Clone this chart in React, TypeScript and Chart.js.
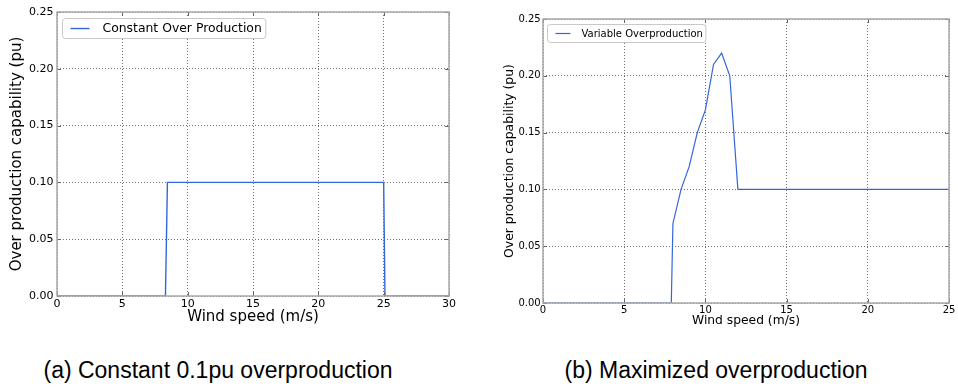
import React, { useEffect, useRef } from "react";
import { Chart, registerables } from "chart.js";

Chart.register(...registerables);

// ---- data ----
const windA = [0, 8.3, 8.45, 25.0, 25.1, 30];
const capA = [0, 0, 0.1, 0.1, 0, 0];
const windB = [0, 7.9, 8.0, 8.5, 9.0, 9.5, 10.0, 10.5, 11.0, 11.5, 12.0, 25];
const capB = [0, 0, 0.07, 0.1, 0.12, 0.15, 0.17, 0.21, 0.22, 0.2, 0.1, 0.1];
const xTicksA = [0, 5, 10, 15, 20, 25, 30];
const xTicksB = [0, 5, 10, 15, 20, 25];
const yTicks = [0, 0.05, 0.1, 0.15, 0.2, 0.25];
const labelA = "Constant Over Production";
const labelB = "Variable Overproduction";
const captionA = "(a) Constant 0.1pu overproduction";
const captionB = "(b) Maximized overproduction";
const xTitle = "Wind speed (m/s)";
const yTitle = "Over production capability (pu)";

const FONT = '"DejaVu Sans", sans-serif';
const LINE_COLOR = "#3366dd";

const frameLegendPlugin = {
  id: "frameLegend",
  afterDatasetsDraw(chart: any, _args: any, opts: any) {
    const { ctx, chartArea: a } = chart;
    const xs = chart.scales.x;
    const ys = chart.scales.y;
    const L = opts.tickLen;
    ctx.save();
    // inward ticks on all sides
    ctx.strokeStyle = opts.tickColor;
    ctx.lineWidth = 1;
    ctx.beginPath();
    xs.ticks.forEach((t: any) => {
      const px = Math.round(xs.getPixelForValue(t.value)) + 0.5;
      ctx.moveTo(px, a.bottom);
      ctx.lineTo(px, a.bottom - L);
      ctx.moveTo(px, a.top);
      ctx.lineTo(px, a.top + L);
    });
    ys.ticks.forEach((t: any) => {
      const py = Math.round(ys.getPixelForValue(t.value)) + 0.5;
      ctx.moveTo(a.left, py);
      ctx.lineTo(a.left + L, py);
      ctx.moveTo(a.right, py);
      ctx.lineTo(a.right - L, py);
    });
    ctx.stroke();
    // frame
    ctx.strokeStyle = opts.frameColor;
    ctx.lineWidth = opts.frameWidth;
    ctx.strokeRect(a.left, a.top, a.right - a.left, a.bottom - a.top);
    // legend inside plot
    const ds = chart.data.datasets[0];
    ctx.font = `${opts.legendSize}px ${FONT}`;
    const tw = ctx.measureText(ds.label).width;
    const bx = a.left + opts.legendDx + 0.5;
    const by = a.top + opts.legendDy + 0.5;
    const bw = opts.textStart + tw + opts.padRight;
    const bh = opts.legendH;
    const r = 3;
    ctx.beginPath();
    ctx.moveTo(bx + r, by);
    ctx.lineTo(bx + bw - r, by);
    ctx.arcTo(bx + bw, by, bx + bw, by + r, r);
    ctx.lineTo(bx + bw, by + bh - r);
    ctx.arcTo(bx + bw, by + bh, bx + bw - r, by + bh, r);
    ctx.lineTo(bx + r, by + bh);
    ctx.arcTo(bx, by + bh, bx, by + bh - r, r);
    ctx.lineTo(bx, by + r);
    ctx.arcTo(bx, by, bx + r, by, r);
    ctx.closePath();
    ctx.fillStyle = "#ffffff";
    ctx.fill();
    ctx.strokeStyle = "#c8c8c8";
    ctx.lineWidth = 1;
    ctx.stroke();
    const cy = by + bh / 2;
    ctx.beginPath();
    ctx.strokeStyle = ds.borderColor;
    ctx.lineWidth = ds.borderWidth;
    ctx.moveTo(bx + opts.sampleStart, cy);
    ctx.lineTo(bx + opts.sampleStart + opts.sampleLen, cy);
    ctx.stroke();
    ctx.fillStyle = "#000";
    ctx.textAlign = "left";
    ctx.textBaseline = "middle";
    ctx.fillText(ds.label, bx + opts.textStart, cy + 0.5);
    ctx.restore();
  },
};

type Cfg = {
  left: number;
  w: number;
  h: number;
  xs: number[];
  ys: number[];
  label: string;
  xMax: number;
  xTicks: number[];
  padTop: number;
  padRight: number;
  yAxisW: number;
  xAxisH: number;
  yTitleSize: number;
  yTitlePad: number;
  xTitleSize: number;
  xTitlePad: number;
  tickSize: number;
  yTickPad: number;
  xTickPad: number;
  lineWidth: number;
  legend: any;
};

function Plot({ cfg }: { cfg: Cfg }) {
  const ref = useRef<HTMLCanvasElement>(null);
  useEffect(() => {
    const gridColor = "rgba(0,0,0,0.55)";
    const chart = new Chart(ref.current as HTMLCanvasElement, {
      type: "scatter",
      data: {
        datasets: [
          {
            label: cfg.label,
            data: cfg.xs.map((x, i) => ({ x, y: cfg.ys[i] })),
            borderColor: LINE_COLOR,
            backgroundColor: LINE_COLOR,
            borderWidth: cfg.lineWidth,
            pointRadius: 0,
            showLine: true,
            tension: 0,
          } as any,
        ],
      },
      options: {
        animation: false,
        responsive: false,
        devicePixelRatio: 1,
        layout: { padding: { left: 0, top: cfg.padTop, right: cfg.padRight, bottom: 0 } },
        plugins: {
          legend: { display: false },
          tooltip: { enabled: false },
          frameLegend: {
            tickLen: 4,
            tickColor: "#666",
            frameColor: "#a8a8a8",
            frameWidth: 1.5,
            ...cfg.legend,
          },
        } as any,
        scales: {
          x: {
            type: "linear",
            min: 0,
            max: cfg.xMax,
            afterBuildTicks: (s: any) => {
              s.ticks = cfg.xTicks.map((v) => ({ value: v }));
            },
            afterFit: (s: any) => {
              s.height = cfg.xAxisH;
            },
            ticks: {
              autoSkip: false,
              maxRotation: 0,
              padding: cfg.xTickPad,
              color: "#000",
              font: { family: FONT, size: cfg.tickSize, lineHeight: 1 },
              callback: (v: any) => String(v),
            },
            grid: { color: gridColor, lineWidth: 1, drawTicks: false },
            border: { display: false, dash: [1, 2] },
            title: {
              display: true,
              text: xTitle,
              color: "#000",
              font: { family: FONT, size: cfg.xTitleSize, lineHeight: 1 },
              padding: { top: 0, bottom: cfg.xTitlePad },
            },
          },
          y: {
            type: "linear",
            min: 0,
            max: 0.25,
            afterBuildTicks: (s: any) => {
              s.ticks = yTicks.map((v) => ({ value: v }));
            },
            afterFit: (s: any) => {
              s.width = cfg.yAxisW;
            },
            ticks: {
              padding: cfg.yTickPad,
              color: "#000",
              font: { family: FONT, size: cfg.tickSize, lineHeight: 1 },
              callback: (v: any) => Number(v).toFixed(2),
            },
            grid: { color: gridColor, lineWidth: 1, drawTicks: false },
            border: { display: false, dash: [1, 2] },
            title: {
              display: true,
              text: yTitle,
              color: "#000",
              font: { family: FONT, size: cfg.yTitleSize, lineHeight: 1 },
              padding: { top: cfg.yTitlePad, bottom: 0 },
            },
          },
        },
      } as any,
      plugins: [frameLegendPlugin as any],
    });
    return () => chart.destroy();
  }, []);
  return (
    <div style={{ position: "absolute", left: cfg.left, top: 0, width: cfg.w, height: cfg.h }}>
      <canvas ref={ref} width={cfg.w} height={cfg.h} style={{ display: "block", width: cfg.w, height: cfg.h }} />
    </div>
  );
}

const cfgA: Cfg = {
  left: 0,
  w: 470,
  h: 330,
  xs: windA,
  ys: capA,
  label: labelA,
  xMax: 30,
  xTicks: xTicksA,
  padTop: 12,
  padRight: 21,
  yAxisW: 57,
  xAxisH: 34,
  yTitleSize: 15,
  yTitlePad: 9.5,
  xTitleSize: 15,
  xTitlePad: 5.5,
  tickSize: 11,
  yTickPad: 3.5,
  xTickPad: 2.5,
  lineWidth: 1.4,
  legend: { legendSize: 12.4, legendDx: 5, legendDy: 6, legendH: 20, sampleStart: 8, sampleLen: 19, textStart: 40, padRight: 4 },
};

const cfgB: Cfg = {
  left: 490,
  w: 468,
  h: 330,
  xs: windB,
  ys: capB,
  label: labelB,
  xMax: 25,
  xTicks: xTicksB,
  padTop: 19,
  padRight: 9,
  yAxisW: 53,
  xAxisH: 27,
  yTitleSize: 12.4,
  yTitlePad: 13.8,
  xTitleSize: 12.3,
  xTitlePad: 2.8,
  tickSize: 10,
  yTickPad: 2.3,
  xTickPad: 2,
  lineWidth: 1.2,
  legend: { legendSize: 10, legendDx: 4, legendDy: 5, legendH: 18, sampleStart: 8, sampleLen: 15, textStart: 34, padRight: 3 },
};

const captionStyle: React.CSSProperties = {
  position: "absolute",
  top: 359,
  fontFamily: '"Liberation Sans", Arial, sans-serif',
  fontSize: 23,
  lineHeight: 1,
  whiteSpace: "nowrap",
  textAlign: "center",
  color: "#000",
};

export default function App() {
  return (
    <div style={{ position: "absolute", left: 0, top: 0, width: 958, height: 387, background: "#fff", overflow: "hidden" }}>
      <Plot cfg={cfgA} />
      <Plot cfg={cfgB} />
      <div style={{ ...captionStyle, left: 18, width: 400 }}>{captionA}</div>
      <div style={{ ...captionStyle, left: 516, width: 400 }}>{captionB}</div>
    </div>
  );
}
